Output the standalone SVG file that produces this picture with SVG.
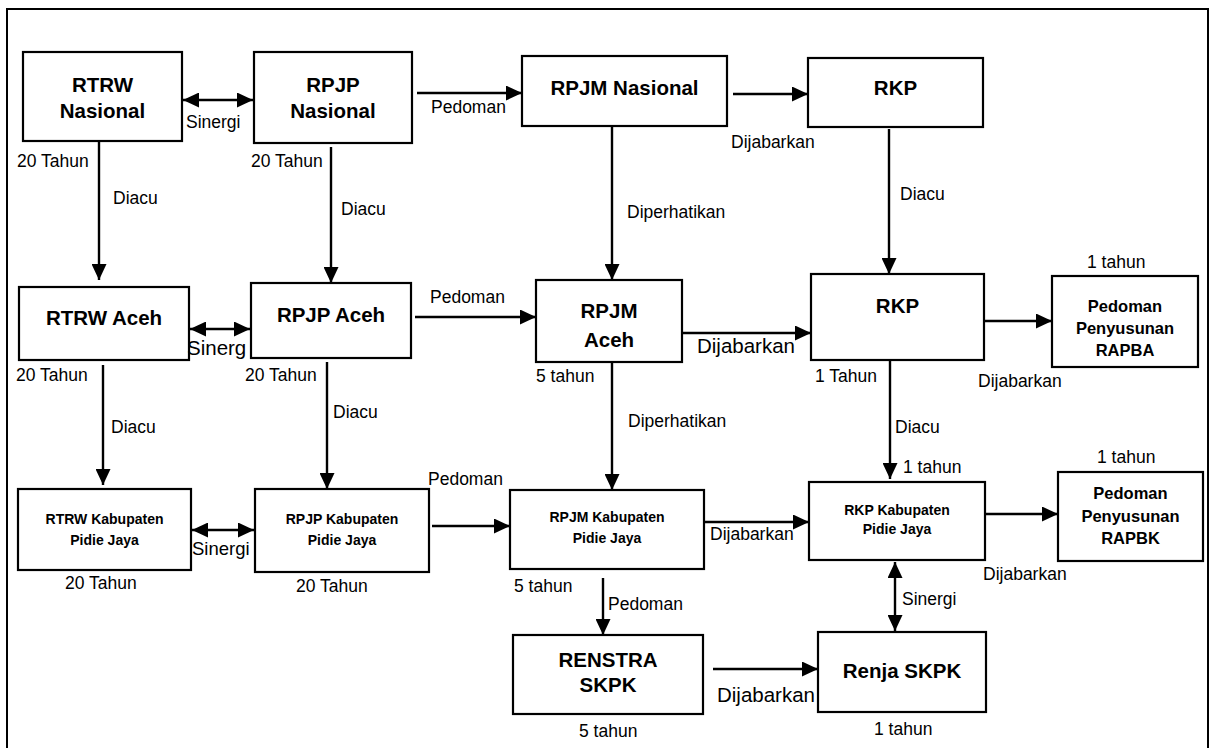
<svg xmlns="http://www.w3.org/2000/svg" width="1211" height="748" viewBox="0 0 1211 748">
<style>
.box{fill:#fff;stroke:#000;stroke-width:2.2}
.t{font-family:"Liberation Sans",Arial,sans-serif;fill:#000}
.b{font-weight:bold;text-anchor:middle}
.big{font-size:20.5px}
.mid{font-size:16.5px}
.sm{font-size:14px}
.lb{font-size:17.5px}
.lg{font-size:20.5px}
.c{stroke:#000;stroke-width:2.4;fill:none}
</style>
<defs>
<marker id="ah" markerWidth="16" markerHeight="15" refX="16" refY="7.5" orient="auto-start-reverse" markerUnits="userSpaceOnUse"><path d="M0,0 L16,7.5 L0,15 z" fill="#000"/></marker>
</defs>
<rect width="1211" height="748" fill="#fff"/>
<path d="M7,748 V9 H1208 V748" fill="none" stroke="#000" stroke-width="2"/>

<g id="n-rtrw-nas"><rect class="box" x="23" y="52" width="159" height="89"/><text class="t b big" x="102.5" y="92">RTRW</text><text class="t b big" x="102.5" y="118">Nasional</text></g>
<g id="n-rpjp-nas"><rect class="box" x="254" y="52" width="158" height="91"/><text class="t b big" x="333" y="92">RPJP</text><text class="t b big" x="333" y="118">Nasional</text></g>
<g id="n-rpjm-nas"><rect class="box" x="522" y="56" width="205" height="70"/><text class="t b big" x="624.5" y="95">RPJM Nasional</text></g>
<g id="n-rkp-nas"><rect class="box" x="808" y="58" width="175" height="69"/><text class="t b big" x="895.5" y="95">RKP</text></g>

<g id="n-rtrw-aceh"><rect class="box" x="19" y="287" width="170" height="73"/><text class="t b big" x="104" y="325">RTRW Aceh</text></g>
<g id="n-rpjp-aceh"><rect class="box" x="251" y="283" width="160" height="75"/><text class="t b big" x="331" y="322">RPJP Aceh</text></g>
<g id="n-rpjm-aceh"><rect class="box" x="536" y="280" width="146" height="82"/><text class="t b big" x="609" y="318">RPJM</text><text class="t b big" x="609" y="347">Aceh</text></g>
<g id="n-rkp-aceh"><rect class="box" x="811" y="274" width="173" height="86"/><text class="t b big" x="897.5" y="313">RKP</text></g>
<g id="n-rapba"><rect class="box" x="1052" y="276" width="146" height="91"/><text class="t b mid" x="1125" y="312">Pedoman</text><text class="t b mid" x="1125" y="334">Penyusunan</text><text class="t b mid" x="1125" y="356">RAPBA</text></g>

<g id="n-rtrw-kab"><rect class="box" x="18" y="489" width="173" height="81"/><text class="t b sm" x="104.5" y="524">RTRW Kabupaten</text><text class="t b sm" x="104.5" y="545">Pidie Jaya</text></g>
<g id="n-rpjp-kab"><rect class="box" x="255" y="489" width="174" height="83"/><text class="t b sm" x="342" y="524">RPJP Kabupaten</text><text class="t b sm" x="342" y="545">Pidie Jaya</text></g>
<g id="n-rpjm-kab"><rect class="box" x="510" y="490" width="194" height="79"/><text class="t b sm" x="607" y="522">RPJM Kabupaten</text><text class="t b sm" x="607" y="543">Pidie Jaya</text></g>
<g id="n-rkp-kab"><rect class="box" x="809" y="482" width="176" height="78"/><text class="t b sm" x="897" y="515">RKP Kabupaten</text><text class="t b sm" x="897" y="534">Pidie Jaya</text></g>
<g id="n-rapbk"><rect class="box" x="1058" y="472" width="145" height="89"/><text class="t b mid" x="1130.5" y="499">Pedoman</text><text class="t b mid" x="1130.5" y="522">Penyusunan</text><text class="t b mid" x="1130.5" y="544">RAPBK</text></g>

<g id="n-renstra"><rect class="box" x="513" y="635" width="190" height="79"/><text class="t b big" x="608" y="667">RENSTRA</text><text class="t b big" x="608" y="692">SKPK</text></g>
<g id="n-renja"><rect class="box" x="818" y="632" width="168" height="80"/><text class="t b big" x="902" y="678">Renja SKPK</text></g>

<g id="connectors">
<line class="c" x1="183" y1="100" x2="253" y2="100" marker-start="url(#ah)" marker-end="url(#ah)"/>
<line class="c" x1="417" y1="93" x2="522" y2="93" marker-end="url(#ah)"/>
<line class="c" x1="733" y1="94" x2="808" y2="94" marker-end="url(#ah)"/>
<line class="c" x1="99" y1="141" x2="99" y2="280" marker-end="url(#ah)"/>
<line class="c" x1="331" y1="147" x2="331" y2="283" marker-end="url(#ah)"/>
<line class="c" x1="612" y1="126" x2="612" y2="280" marker-end="url(#ah)"/>
<line class="c" x1="889" y1="129" x2="889" y2="274" marker-end="url(#ah)"/>

<line class="c" x1="190" y1="329" x2="250" y2="329" marker-start="url(#ah)" marker-end="url(#ah)"/>
<line class="c" x1="415" y1="317" x2="536" y2="317" marker-end="url(#ah)"/>
<line class="c" x1="682" y1="333" x2="811" y2="333" marker-end="url(#ah)"/>
<line class="c" x1="984" y1="321" x2="1052" y2="321" marker-end="url(#ah)"/>
<line class="c" x1="103" y1="365" x2="103" y2="485" marker-end="url(#ah)"/>
<line class="c" x1="327" y1="362" x2="327" y2="489" marker-end="url(#ah)"/>
<line class="c" x1="612" y1="362" x2="612" y2="490" marker-end="url(#ah)"/>
<line class="c" x1="890" y1="360" x2="890" y2="479" marker-end="url(#ah)"/>

<line class="c" x1="192" y1="530" x2="254" y2="530" marker-start="url(#ah)" marker-end="url(#ah)"/>
<line class="c" x1="432" y1="526" x2="510" y2="526" marker-end="url(#ah)"/>
<line class="c" x1="704" y1="522" x2="809" y2="522" marker-end="url(#ah)"/>
<line class="c" x1="985" y1="514" x2="1058" y2="514" marker-end="url(#ah)"/>
<line class="c" x1="603" y1="578" x2="603" y2="635" marker-end="url(#ah)"/>
<line class="c" x1="895" y1="562" x2="895" y2="631" marker-start="url(#ah)" marker-end="url(#ah)"/>
<line class="c" x1="713" y1="669" x2="818" y2="669" marker-end="url(#ah)"/>
</g>

<g id="labels">
<text class="t lb" x="186" y="128">Sinergi</text>
<text class="t lb" x="431" y="113">Pedoman</text>
<text class="t lb" x="731" y="148">Dijabarkan</text>
<text class="t lb" x="17" y="167">20 Tahun</text>
<text class="t lb" x="251" y="167">20 Tahun</text>
<text class="t lb" x="113" y="204">Diacu</text>
<text class="t lb" x="341" y="215">Diacu</text>
<text class="t lb" x="627" y="218">Diperhatikan</text>
<text class="t lb" x="900" y="200">Diacu</text>

<text class="t lg" x="187" y="355">Sinerg</text>
<text class="t lb" x="430" y="303">Pedoman</text>
<text class="t lg" x="697" y="353">Dijabarkan</text>
<text class="t lb" x="1087" y="268">1 tahun</text>
<text class="t lb" x="978" y="387">Dijabarkan</text>
<text class="t lb" x="16" y="381">20 Tahun</text>
<text class="t lb" x="245" y="381">20 Tahun</text>
<text class="t lb" x="536" y="382">5 tahun</text>
<text class="t lb" x="815" y="382">1 Tahun</text>
<text class="t lb" x="111" y="433">Diacu</text>
<text class="t lb" x="333" y="418">Diacu</text>
<text class="t lb" x="628" y="427">Diperhatikan</text>
<text class="t lb" x="895" y="433">Diacu</text>

<text class="t lb" x="428" y="485">Pedoman</text>
<text class="t lb" x="903" y="473">1 tahun</text>
<text class="t lb" x="1097" y="463">1 tahun</text>
<text class="t lb" x="192" y="555" style="font-size:18.5px">Sinergi</text>
<text class="t lb" x="710" y="540">Dijabarkan</text>
<text class="t lb" x="983" y="580">Dijabarkan</text>
<text class="t lb" x="65" y="589">20 Tahun</text>
<text class="t lb" x="296" y="592">20 Tahun</text>
<text class="t lb" x="514" y="592">5 tahun</text>
<text class="t lb" x="608" y="610">Pedoman</text>
<text class="t lb" x="902" y="605">Sinergi</text>
<text class="t lg" x="717" y="702">Dijabarkan</text>
<text class="t lb" x="579" y="737">5 tahun</text>
<text class="t lb" x="874" y="735">1 tahun</text>
</g>
</svg>
